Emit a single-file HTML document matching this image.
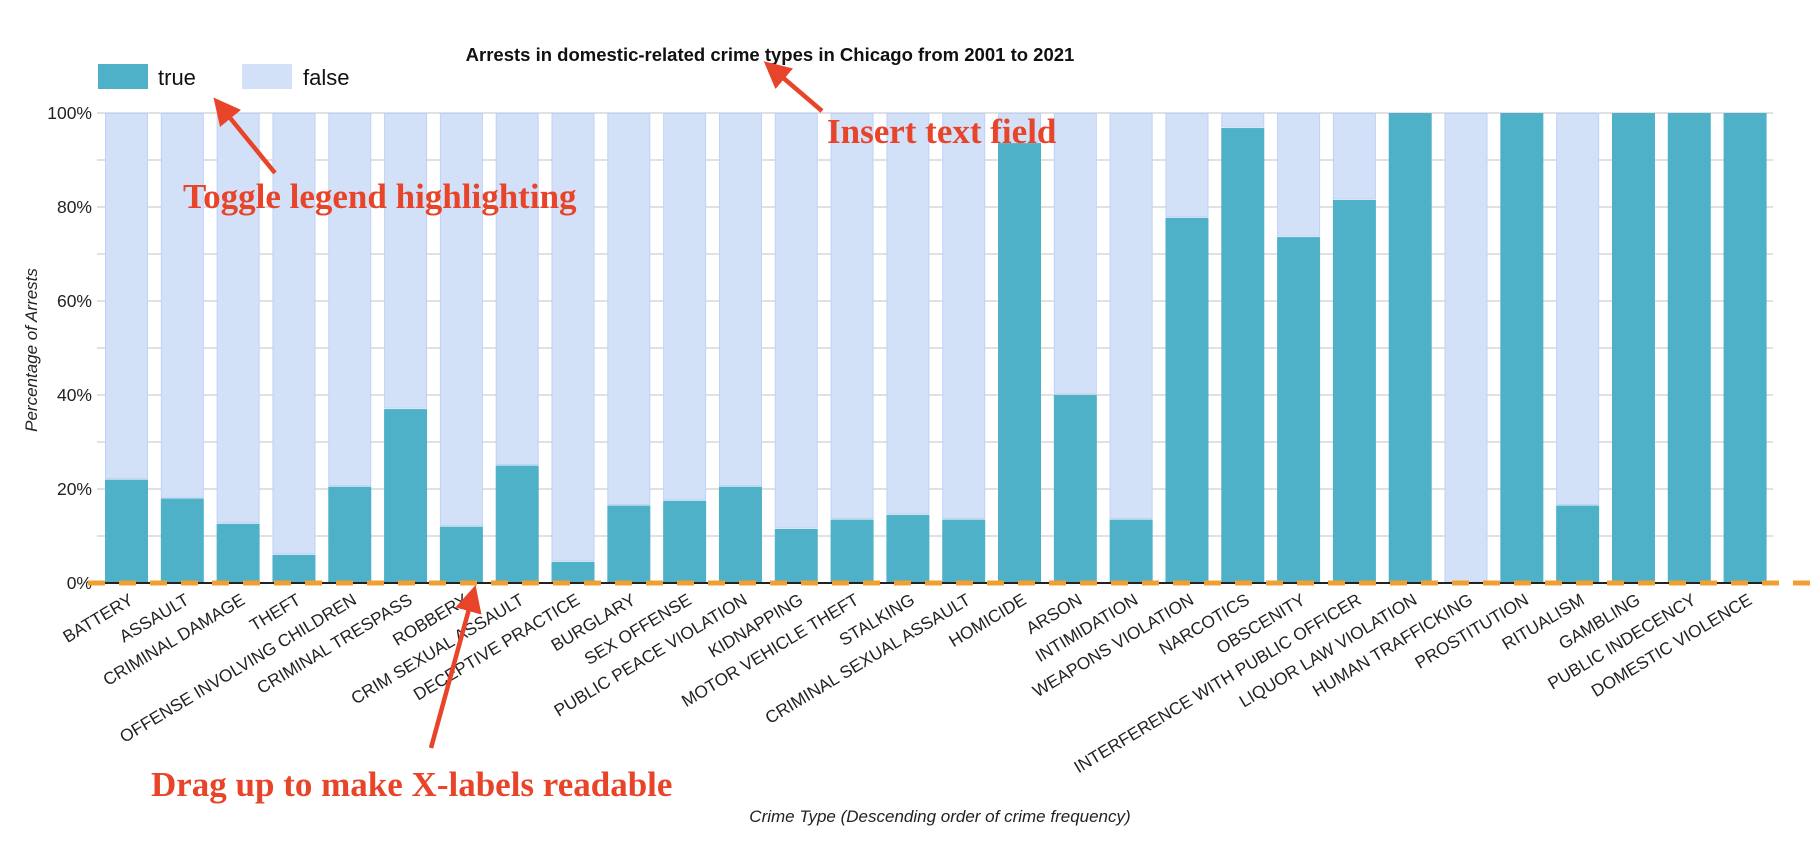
<!DOCTYPE html>
<html><head><meta charset="utf-8"><style>
html,body{margin:0;padding:0;background:#fff;}
svg{display:block;font-family:"Liberation Sans",sans-serif;}
</style></head><body>
<svg id="chart" width="1818" height="852" viewBox="0 0 1818 852">
<text x="770" y="61" text-anchor="middle" font-size="18.5" font-weight="bold" fill="#111">Arrests in domestic-related crime types in Chicago from 2001 to 2021</text>
<g>
<rect x="98" y="64" width="50" height="25" fill="#4fb1c8"/>
<text x="158" y="85" font-size="22" fill="#111">true</text>
<rect x="242" y="64" width="50" height="25" fill="#d3e1f8"/>
<text x="303" y="85" font-size="22" fill="#111">false</text>
</g>
<g id="grid"></g>
<g id="bars"></g>
<g id="xlabels"></g>
<text transform="translate(37,350) rotate(-90)" text-anchor="middle" font-size="17" font-style="italic" fill="#222">Percentage of Arrests</text>
<text x="940" y="822" text-anchor="middle" font-size="17" font-style="italic" fill="#222">Crime Type (Descending order of crime frequency)</text>
<g font-family="Liberation Serif,serif" font-weight="bold" fill="#e8442a" font-size="35">
<text x="183" y="208">Toggle legend highlighting</text>
<text x="827" y="143">Insert text field</text>
<text x="151" y="796">Drag up to make X-labels readable</text>
</g>
<defs><marker id="ah" markerWidth="6" markerHeight="6" refX="3" refY="3" orient="auto"><path d="M0,0 L6,3 L0,6 z" fill="#e8442a"/></marker></defs>
<g stroke="#e8442a" stroke-width="4.5" marker-end="url(#ah)">
<line x1="275" y1="173" x2="222" y2="108"/>
<line x1="822" y1="111" x2="774" y2="70"/>
<line x1="431" y1="748" x2="472" y2="598"/>
</g>
</svg>
<script>
const categories=["BATTERY","ASSAULT","CRIMINAL DAMAGE","THEFT","OFFENSE INVOLVING CHILDREN","CRIMINAL TRESPASS","ROBBERY","CRIM SEXUAL ASSAULT","DECEPTIVE PRACTICE","BURGLARY","SEX OFFENSE","PUBLIC PEACE VIOLATION","KIDNAPPING","MOTOR VEHICLE THEFT","STALKING","CRIMINAL SEXUAL ASSAULT","HOMICIDE","ARSON","INTIMIDATION","WEAPONS VIOLATION","NARCOTICS","OBSCENITY","INTERFERENCE WITH PUBLIC OFFICER","LIQUOR LAW VIOLATION","HUMAN TRAFFICKING","PROSTITUTION","RITUALISM","GAMBLING","PUBLIC INDECENCY","DOMESTIC VIOLENCE"];
const trueValues=[22,18,12.6,6,20.5,37,12,25,4.5,16.5,17.5,20.5,11.5,13.5,14.5,13.5,93.6,40,13.5,77.7,96.8,73.6,81.5,100,0,100,16.5,100,100,100];
const yTicks=[0,20,40,60,80,100];
const yTickLabels=["0%","20%","40%","60%","80%","100%"];
const NS="http://www.w3.org/2000/svg";
const X0=98.6,X1=1773,Y0=583,Y1=113;
const band=(X1-X0)/categories.length;
const xPos=i=>X0+band*i;
const yPos=v=>Y0-(v/100)*(Y0-Y1);
function mk(t,a,p){const e=document.createElementNS(NS,t);for(const k in a)e.setAttribute(k,a[k]);p.appendChild(e);return e;}
const grid=document.getElementById('grid');
for(let v=10;v<=100;v+=10){
 const l=mk('line',{x1:97,x2:X1,y1:yPos(v),y2:yPos(v),stroke:'#cfcfd4','stroke-width':1.3},grid);
 
 
}
yTicks.forEach((v,i)=>{
 const t=mk('text',{x:92,y:yPos(v)+6,'text-anchor':'end','font-size':17.5,fill:'#222'},grid);
 t.textContent=yTickLabels[i];
 
 
});
const bars=document.getElementById('bars');
const bw=43,off=(band-bw)/2;
categories.forEach((c,i)=>{
 const x=xPos(i)+off,v=trueValues[i];
 if(v<100){
  const f=mk('rect',{x:x+0.5,y:Y1+0.5,width:bw-1,height:yPos(v)-Y1-1.5,fill:'#d3e1f8',stroke:'#bfd2f5','stroke-width':1},bars);
  
  
 }
 if(v>0){
  const r=mk('rect',{x:x,y:yPos(v),width:bw,height:Y0-yPos(v),fill:'#4fb1c8'},bars);
  
  
 }
});
const base=mk('line',{x1:97,x2:X1,y1:Y0,y2:Y0,stroke:'#222','stroke-width':2},bars);


const dash=mk('line',{x1:88,x2:1818,y1:Y0,y2:Y0,stroke:'#f0a030','stroke-width':5,'stroke-dasharray':'17 14'},bars);


const xl=document.getElementById('xlabels');
categories.forEach((c,i)=>{
 const cx=xPos(i)+band/2+8;
 const t=mk('text',{transform:`translate(${cx},603) rotate(-31)`,'text-anchor':'end','font-size':17.3,fill:'#222'},xl);
 t.textContent=c;
 
 
});
</script>
</body></html>
